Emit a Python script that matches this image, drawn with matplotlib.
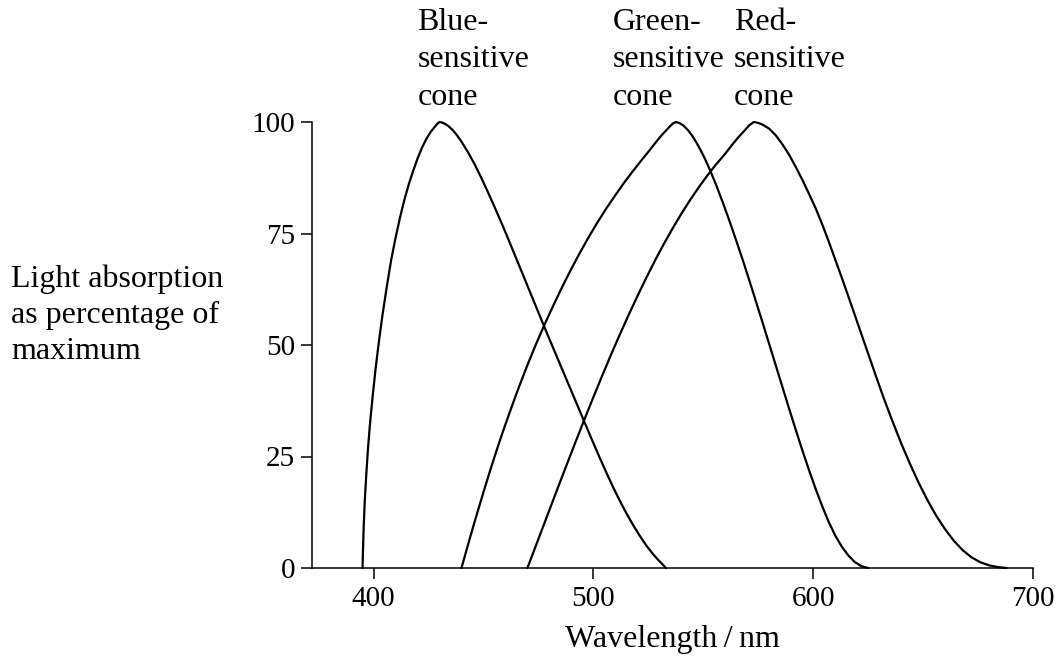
import matplotlib
matplotlib.use("Agg")
import matplotlib.pyplot as plt
from matplotlib.transforms import blended_transform_factory

# ---- data (wavelength nm, % of maximum) ----
blue_wl = [395.0, 395.2, 395.5, 396.0, 396.7, 397.5, 398.5, 399.7, 401.0, 402.5, 404.0, 406.0,
           408.0, 410.0, 412.0, 414.0, 416.0, 418.0, 420.0, 422.0, 424.0, 426.0, 428.0, 429.0,
           430.0, 431.0, 432.5, 434.0, 436.0, 438.0, 440.0, 443.0, 446.0, 449.0, 452.0, 455.0,
           458.0, 461.0, 464.0, 467.0, 470.0, 473.0, 476.0, 479.0, 482.0, 485.0, 488.0, 491.0,
           494.0, 497.0, 500.0, 503.0, 506.0, 509.0, 512.0, 515.0, 518.0, 521.0, 524.0, 527.0,
           529.5, 531.5, 533.0]
blue_val = [0, 4, 9, 15, 21, 27, 33, 39, 45, 51, 56.5, 63,
            69, 74, 78.5, 82.5, 86, 89, 91.8, 94.2, 96.2, 97.8, 99.0, 99.6,
            100, 99.9, 99.6, 99.1, 98.2, 97.0, 95.6, 93.2, 90.5, 87.5, 84.3, 81,
            77.6, 74.1, 70.5, 66.9, 63.3, 59.7, 56.1, 52.5, 49, 45.5, 42, 38.5,
            35, 31.5, 28, 24.6, 21.3, 18.1, 15.1, 12.3, 9.7, 7.3, 5.1, 3.2,
            1.8, 0.8, 0]

green_wl = [440, 442, 444, 446, 448, 450, 453, 456, 459, 462, 466, 470, 474, 478, 482, 486,
            490, 494, 498, 502, 506, 510, 514, 518, 522, 525, 528, 531, 534, 536, 537.5,
            539, 541, 543, 545, 547, 549, 551, 553, 556, 559, 562, 565, 568, 571, 574, 577,
            580, 583, 586, 589, 592, 595, 598, 601, 604, 607, 610, 613, 616, 619, 622, 625]
green_val = [0, 3.5, 7, 10.4, 13.7, 17, 21.8, 26.4, 30.8, 35, 40.4, 45.5, 50.3, 54.8, 59.1, 63.2,
             67.1, 70.8, 74.3, 77.6, 80.7, 83.6, 86.4, 89, 91.5, 93.3, 95.2, 97.0, 98.6, 99.6, 100,
             99.8, 99.2, 98.2, 96.9, 95.3, 93.5, 91.5, 89.3, 85.7, 81.8, 77.7, 73.4, 69, 64.4, 59.7, 55,
             50.2, 45.4, 40.6, 35.8, 31.1, 26.5, 22.1, 17.9, 14, 10.4, 7.3, 4.8, 2.8, 1.3, 0.4, 0]

red_wl = [470, 472, 474, 476, 478, 480, 484, 488, 492, 496, 500, 504, 508, 512, 516, 520,
          524, 528, 532, 536, 540, 544, 548, 552, 556, 560, 563, 566, 569, 571, 573,
          575, 577, 580, 583, 586, 589, 592, 595, 598, 601, 604, 607, 610, 613, 616, 620,
          624, 628, 632, 636, 640, 644, 648, 652, 656, 660, 664, 668, 672, 676, 680, 684, 688]
red_val = [0, 2.6, 5.2, 7.8, 10.4, 13, 18.2, 23.3, 28.4, 33.4, 38.3, 43.1, 47.8, 52.3, 56.7, 60.9,
           65, 68.9, 72.6, 76.1, 79.4, 82.5, 85.4, 88.1, 90.6, 92.9, 94.8, 96.6, 98.2, 99.3, 100,
           99.8, 99.4, 98.5, 97.0, 95.0, 92.7, 90.0, 87.1, 84.0, 80.8, 77.2, 73.3, 69.2, 65.1, 60.9, 55.2,
           49.5, 43.8, 38.2, 33.0, 28.0, 23.4, 19.1, 15.2, 11.7, 8.7, 6.1, 4.0, 2.4, 1.3, 0.6, 0.2, 0]

x_ticks = [400, 500, 600, 700]
y_ticks = [0, 25, 50, 75, 100]
cone_labels = ["Blue-\nsensitive\ncone", "Green-\nsensitive\ncone", "Red-\nsensitive\ncone"]
label_wl = [420, 509, 564]

plt.rcParams['font.family'] = ['Liberation Serif', 'DejaVu Serif']
FS_TICK = 21
FS_TEXT = 23

fig = plt.figure(figsize=(10.62, 6.59), dpi=100)
W, H = 1062, 659
ax = fig.add_axes([312 / W, 1 - 568 / H, (1033 - 312) / W, (568 - 122) / H])

for wl, val in [(blue_wl, blue_val), (green_wl, green_val), (red_wl, red_val)]:
    ax.plot(wl, val, color='black', lw=1.6, clip_on=False,
            solid_joinstyle='round', solid_capstyle='round')

ax.set_xlim(372, 700)
ax.set_ylim(0, 100)
ax.set_xticks(x_ticks)
ax.set_yticks(y_ticks)
ax.spines['top'].set_visible(False)
ax.spines['right'].set_visible(False)
for s in ['left', 'bottom']:
    ax.spines[s].set_linewidth(1.1)
ax.tick_params(axis='both', direction='out', length=8, width=1.1,
               labelsize=FS_TICK, colors='black')
ax.tick_params(axis='y', pad=4)
ax.tick_params(axis='x', pad=5)

ax.set_xlabel("Wavelength\u2009/\u2009nm", fontsize=FS_TEXT, labelpad=9)

fig.text(11 / W, 1 - 264 / H, "Light absorption\nas percentage of\nmaximum",
         fontsize=FS_TEXT, ha='left', va='top', linespacing=1.32)

trans = blended_transform_factory(ax.transData, fig.transFigure)
for lab, wl in zip(cone_labels, label_wl):
    ax.text(wl, 1 - 8 / H, lab, transform=trans, fontsize=FS_TEXT,
            ha='left', va='top', linespacing=1.38)

fig.savefig("out.png", dpi=100)
